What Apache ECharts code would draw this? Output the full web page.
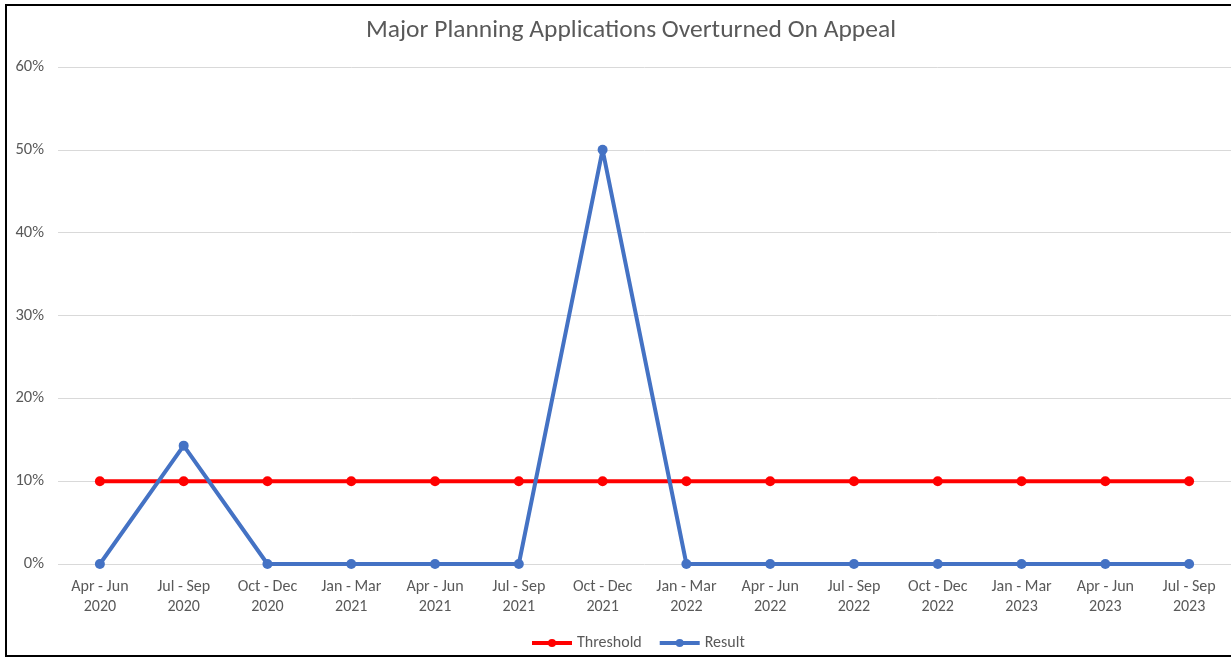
<!DOCTYPE html>
<html lang="en">
<head>
    <meta charset="UTF-8">
    <title>Major Planning Applications Overturned On Appeal</title>
    <script src="https://cdn.jsdelivr.net/npm/echarts@6/dist/echarts.min.js"></script>
    <style>
        html, body { margin: 0; padding: 0; background: #fff; }
        #main { width: 1231px; height: 658px; }
    </style>
</head>
<body>
    <div id="main"></div>
    <script>
        // quarters on the x axis
        var quarters = ['Apr - Jun\n2020', 'Jul - Sep\n2020', 'Oct - Dec\n2020', 'Jan - Mar\n2021',
            'Apr - Jun\n2021', 'Jul - Sep\n2021', 'Oct - Dec\n2021', 'Jan - Mar\n2022',
            'Apr - Jun\n2022', 'Jul - Sep\n2022', 'Oct - Dec\n2022', 'Jan - Mar\n2023',
            'Apr - Jun\n2023', 'Jul - Sep\n2023'];
        // values in percent
        var threshold = [10, 10, 10, 10, 10, 10, 10, 10, 10, 10, 10, 10, 10, 10];
        var result = [0, 14.29, 0, 0, 0, 0, 50, 0, 0, 0, 0, 0, 0, 0];

        var font = 'Calibri, Carlito, "Liberation Sans", sans-serif';
        var grey = '#595959';

        var myChart = echarts.init(document.getElementById('main'));
        var option = {
            animation: false,
            textStyle: { fontFamily: font },
            title: {
                text: 'Major Planning Applications Overturned On Appeal',
                left: 361,
                top: 13,
                textStyle: { color: grey, fontSize: 25.5, fontWeight: 'normal', fontFamily: font }
            },
            legend: {
                bottom: 2,
                left: 525,
                itemWidth: 40,
                itemHeight: 10,
                itemGap: 16,
                itemStyle: { borderWidth: 0 },
                lineStyle: { width: 4 },
                textStyle: { color: grey, fontSize: 16, fontFamily: font },
                data: ['Threshold', 'Result']
            },
            graphic: [{
                type: 'rect',
                shape: { x: 6, y: 5, width: 1240, height: 651 },
                style: { fill: 'none', stroke: '#000', lineWidth: 2 },
                z: 100
            }],
            grid: {
                left: 58,
                top: 67,
                width: 1176,
                height: 497
            },
            xAxis: {
                type: 'category',
                data: quarters,
                axisLine: { show: false },
                axisTick: { show: false },
                axisLabel: {
                    color: grey,
                    fontSize: 16,
                    lineHeight: 20,
                    margin: 13,
                    interval: 0,
                    fontFamily: font
                }
            },
            yAxis: {
                type: 'value',
                min: 0,
                max: 60,
                interval: 10,
                axisLine: { show: false },
                axisTick: { show: false },
                axisLabel: {
                    color: grey,
                    fontSize: 16.5,
                    margin: 14,
                    formatter: '{value}%',
                    fontFamily: font
                },
                splitLine: { lineStyle: { color: '#d9d9d9', width: 1 } }
            },
            series: [{
                name: 'Threshold',
                type: 'line',
                data: threshold,
                symbol: 'circle',
                symbolSize: 10,
                color: '#ff0000',
                lineStyle: { width: 4 },
                z: 2
            }, {
                name: 'Result',
                type: 'line',
                data: result,
                symbol: 'circle',
                symbolSize: 10,
                color: '#4472c4',
                lineStyle: { width: 4 },
                z: 3
            }]
        };
        myChart.setOption(option);
    </script>
</body>
</html>
